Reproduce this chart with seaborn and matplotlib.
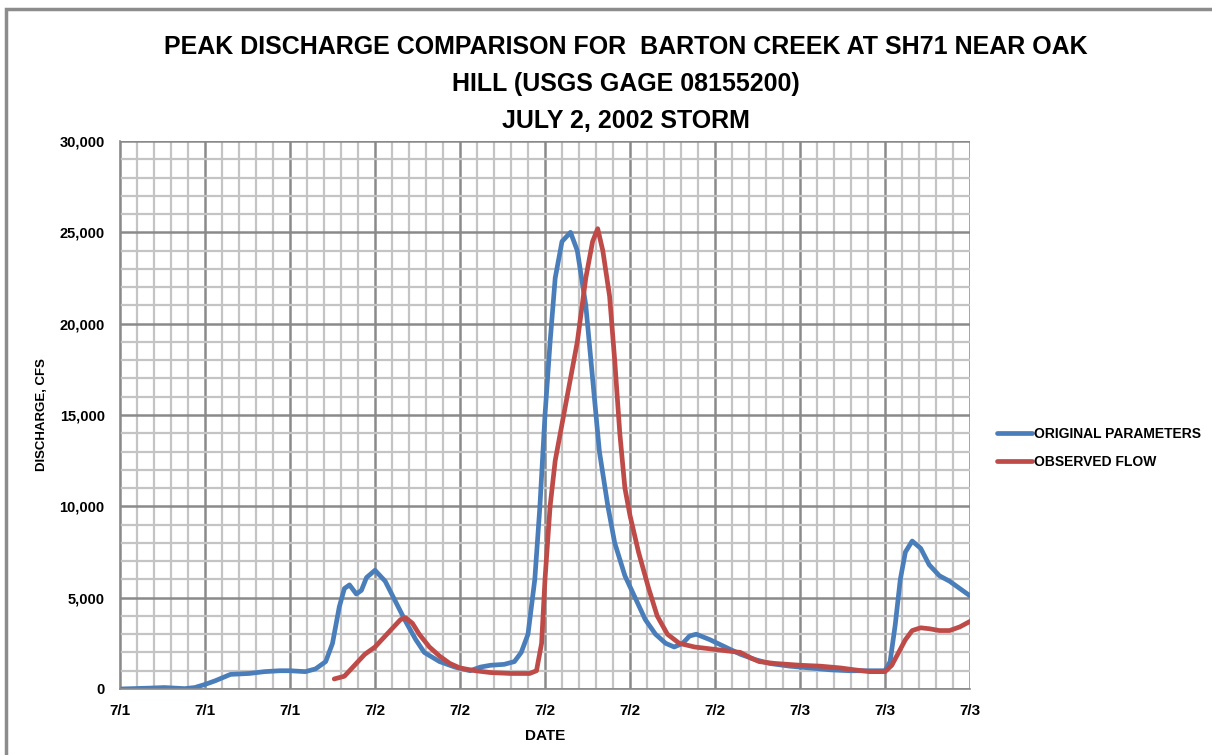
import pandas as pd
import matplotlib.pyplot as plt
import seaborn as sns
from matplotlib.patches import Rectangle
from matplotlib.ticker import MultipleLocator, FuncFormatter

# hours since start of the axis (one minor gridline per hour)
orig_hours = [0, 1.8, 2.6, 3.8, 4.4, 5, 5.6, 6.5, 7.6, 8.5, 9.4, 10, 10.9, 11.5, 12.1, 12.5,
              12.9, 13.2, 13.5, 13.9, 14.2, 14.5, 15, 15.6, 16.2, 16.8, 17.4, 17.9, 18.8,
              19.7, 20.6, 21.2, 21.8, 22.6, 23.2, 23.6, 24, 24.4, 24.7, 25, 25.3, 25.6, 26,
              26.5, 26.9, 27.4, 27.8, 28.2, 28.7, 29.1, 29.7, 30.3, 30.9, 31.5, 32.1, 32.6,
              33.1, 33.5, 33.9, 34.7, 35.6, 36.5, 37.4, 38.2, 39.4, 40.6, 41.8, 42.9, 44.1,
              45, 45.3, 45.6, 45.9, 46.2, 46.6, 47.1, 47.6, 48.2, 48.8, 49.4, 50]
orig_cfs = [0, 50, 80, 20, 80, 250, 450, 800, 850, 950, 1000, 1000, 950, 1100, 1500, 2500,
            4500, 5500, 5700, 5200, 5400, 6100, 6500, 5900, 4800, 3700, 2700, 2000, 1500,
            1200, 1000, 1200, 1300, 1350, 1500, 2000, 3000, 6000, 10000, 15000, 19000,
            22500, 24500, 25000, 24000, 21000, 17000, 13000, 10000, 8000, 6200, 5000, 3800,
            3000, 2500, 2300, 2500, 2900, 3000, 2700, 2300, 1900, 1600, 1400, 1250, 1150,
            1050, 1000, 1000, 1000, 1500, 3500, 6000, 7500, 8100, 7700, 6800, 6200, 5900,
            5500, 5100]

obs_hours = [12.6, 13.2, 13.8, 14.4, 15, 15.6, 16.1, 16.5, 16.8, 17.2, 17.6, 18.2, 18.8,
             19.4, 20, 20.9, 21.8, 23, 24.1, 24.5, 24.8, 25, 25.3, 25.6, 26, 26.5, 26.9,
             27.4, 27.8, 28.1, 28.4, 28.8, 29.1, 29.4, 29.7, 30.0, 30.5, 31.1, 31.6, 32.2,
             32.9, 33.8, 34.7, 35.6, 36.5, 37.1, 37.6, 38.5, 40, 41.2, 42.4, 43.2, 44.1, 45,
             45.4, 45.8, 46.2, 46.6, 47.1, 47.6, 48.2, 48.8, 49.4, 50]
obs_cfs = [550, 700, 1300, 1900, 2300, 2900, 3400, 3800, 3900, 3600, 3000, 2300, 1800, 1400,
           1150, 1000, 900, 850, 850, 1000, 2500, 6000, 10000, 12500, 14500, 17000, 19000,
           22500, 24500, 25200, 24000, 21500, 18000, 14000, 11000, 9500, 7500, 5500, 4000,
           3000, 2500, 2300, 2200, 2100, 2000, 1700, 1500, 1400, 1300, 1250, 1150, 1050, 950,
           950, 1300, 2000, 2700, 3200, 3350, 3300, 3200, 3200, 3400, 3700]

tick_labels = ["7/1", "7/1", "7/1", "7/2", "7/2", "7/2", "7/2", "7/2", "7/3", "7/3", "7/3"]
series_names = ["ORIGINAL PARAMETERS", "OBSERVED FLOW"]

df = pd.concat([
    pd.DataFrame({"hours": orig_hours, "cfs": orig_cfs, "series": series_names[0]}),
    pd.DataFrame({"hours": obs_hours, "cfs": obs_cfs, "series": series_names[1]}),
])

sns.set_style("white")
plt.rcParams["font.family"] = ["Liberation Sans", "DejaVu Sans"]
plt.rcParams["text.color"] = "black"
plt.rcParams["xtick.labelcolor"] = "black"
plt.rcParams["ytick.labelcolor"] = "black"
plt.rcParams["axes.labelcolor"] = "black"

fig = plt.figure(figsize=(12.12, 7.55), dpi=100)
ax = fig.add_axes([120 / 1212, 1 - 689 / 755, 850 / 1212, 548 / 755])

# grid
ax.xaxis.set_major_locator(MultipleLocator(5))
ax.xaxis.set_minor_locator(MultipleLocator(1))
ax.yaxis.set_major_locator(MultipleLocator(5000))
ax.yaxis.set_minor_locator(MultipleLocator(1000))
ax.grid(which="minor", color="#c4c4c4", linewidth=1.6)
ax.grid(which="major", color="#8a8a8a", linewidth=1.8)
ax.set_axisbelow(True)

sns.lineplot(data=df, x="hours", y="cfs", hue="series", palette=["#4a7ebb", "#be4b48"],
             linewidth=3.4, estimator=None, ax=ax)

ax.set_xlim(0, 50)
ax.set_ylim(0, 30000)
ax.set_xticks(range(0, 51, 5))
ax.set_xticklabels(tick_labels)
ax.yaxis.set_major_formatter(FuncFormatter(lambda v, p: f"{int(v):,}"))
ax.tick_params(axis="both", which="major", length=5, width=1.2, color="#8a8a8a",
               direction="out", pad=6)
ax.tick_params(axis="both", which="minor", length=0)
for lab in ax.get_xticklabels():
    lab.set_fontsize(11)
    lab.set_fontweight("bold")
for lab in ax.get_yticklabels():
    lab.set_fontsize(10.5)
    lab.set_fontweight("bold")

for side in ["top", "right"]:
    ax.spines[side].set_visible(False)
for side in ["left", "bottom"]:
    ax.spines[side].set_color("#8a8a8a")
    ax.spines[side].set_linewidth(1.2)

ax.set_xlabel("DATE", fontsize=11, fontweight="bold", labelpad=8)
ax.set_ylabel("DISCHARGE, CFS", fontsize=9.5, fontweight="bold", labelpad=8)

ax.legend(title=None, frameon=False, loc="center left", bbox_to_anchor=(1.032, 0.44),
          prop={"weight": "bold", "size": 10}, handlelength=2.5, borderaxespad=0,
          borderpad=0, handletextpad=0.15, labelspacing=1.0)

fig.text(626 / 1212, 1 - 47 / 755, "PEAK DISCHARGE COMPARISON FOR  BARTON CREEK AT SH71 NEAR OAK",
         ha="center", va="center", fontsize=18, fontweight="bold")
fig.text(626 / 1212, 1 - 84 / 755, "HILL (USGS GAGE 08155200)",
         ha="center", va="center", fontsize=18, fontweight="bold")
fig.text(626 / 1212, 1 - 121 / 755, "JULY 2, 2002 STORM",
         ha="center", va="center", fontsize=18, fontweight="bold")

# outer chart frame
fig.patches.append(Rectangle((6 / 1212, -0.1), 1.2, 1.1 - 9 / 755, transform=fig.transFigure,
                             fill=False, edgecolor="#8c8c8c", linewidth=2.5))

fig.savefig("out.png", dpi=100)
